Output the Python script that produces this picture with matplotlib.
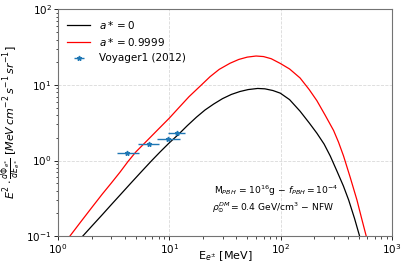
import matplotlib
matplotlib.use("Agg")
import matplotlib.pyplot as plt

# a* = 0 (Schwarzschild)
E_a0 = [1.67, 2.0, 2.5, 3.0, 3.6, 4.5, 5.5, 6.95, 8.3, 10, 12, 14.5, 17.5, 20.9, 25, 30, 36, 43, 51, 62,
        72, 85, 99, 120, 149, 180, 211, 245, 278, 320, 365, 407, 460, 510]
F_a0 = [0.1, 0.134, 0.192, 0.259, 0.348, 0.50, 0.69, 1.0, 1.31, 1.72, 2.2, 2.9, 3.75, 4.67, 5.6, 6.6, 7.5,
        8.2, 8.7, 9.0, 8.9, 8.45, 7.8, 6.4, 4.5, 3.15, 2.3, 1.65, 1.15, 0.72, 0.46, 0.30, 0.17, 0.1]

# a* = 0.9999
E_a1 = [1.28, 1.6, 2.0, 2.5, 3.0, 3.6, 4.25, 5.0, 6.5, 8.0, 10, 12, 15, 19.5, 23.2, 28, 35, 42, 50, 60,
        70, 82, 99, 120, 149, 180, 211, 250, 298, 330, 366, 420, 483, 530, 585]
F_a1 = [0.1, 0.154, 0.236, 0.36, 0.50, 0.70, 0.97, 1.3, 1.92, 2.62, 3.65, 4.9, 7.0, 10.1, 12.9, 16.1, 19.4,
        21.8, 23.4, 24.2, 23.8, 22.3, 19.3, 16.3, 12.4, 8.7, 6.2, 4.0, 2.5, 1.75, 1.15, 0.6, 0.3, 0.175, 0.1]

# Voyager1 (2012)
V_E = [4.2, 6.5, 9.8, 11.7]
V_F = [1.24, 1.64, 1.91, 2.33]
V_Elo = [3.37, 5.2, 7.7, 9.7]
V_Ehi = [5.34, 8.1, 12.5, 13.8]

fs = 7.5
fig = plt.figure(figsize=(4.07, 2.71), dpi=100)
ax = fig.add_axes([0.1425, 0.129, 0.821, 0.836])

ax.plot(E_a0, F_a0, color='black', lw=0.9, label=r'$a* = 0$')
ax.plot(E_a1, F_a1, color='red', lw=0.9, label=r'$a* = 0.9999$')
xerr = [[e - lo for e, lo in zip(V_E, V_Elo)], [hi - e for e, hi in zip(V_E, V_Ehi)]]
ax.errorbar(V_E, V_F, xerr=xerr, fmt='*', color='C0', ecolor='C0', elinewidth=1.0,
            markersize=3.5, label='Voyager1 (2012)')

ax.set_xscale('log')
ax.set_yscale('log')
ax.set_xlim(1, 1000)
ax.set_ylim(0.1, 100)
ax.grid(True, which='major', ls='--', color='0.85', lw=0.6)
ax.tick_params(labelsize=fs, length=3, width=0.6, pad=1.5)
ax.tick_params(which='minor', length=1.8, width=0.5)
for s in ax.spines.values():
    s.set_color('0.45')
    s.set_linewidth(0.8)

ax.set_xlabel(r'E$_{e^{\pm}}$ [MeV]', fontsize=fs + 0.5)
ax.xaxis.set_label_coords(0.5, -0.06)
ax.set_ylabel(r'$E^2 \cdot \frac{d\Phi_{e^{\pm}}}{dE_{e^{\pm}}}$ [$MeV\, cm^{-2}\, s^{-1}\, sr^{-1}$]',
              fontsize=fs + 0.5)
ax.yaxis.set_label_coords(-0.105, 0.5)

ax.legend(loc='upper left', frameon=False, fontsize=fs, handlelength=2.2, borderaxespad=0.5)

ax.text(0.467, 0.2, r'M$_{PBH}$ = 10$^{16}$g $-$ $f_{PBH} = 10^{-4}$',
        transform=ax.transAxes, fontsize=6.6, va='center')
ax.text(0.462, 0.125, r'$\rho_{\odot}^{DM} = 0.4$ GeV/cm$^3$ $-$ NFW',
        transform=ax.transAxes, fontsize=6.6, va='center')

fig.savefig('out.png', dpi=100)
